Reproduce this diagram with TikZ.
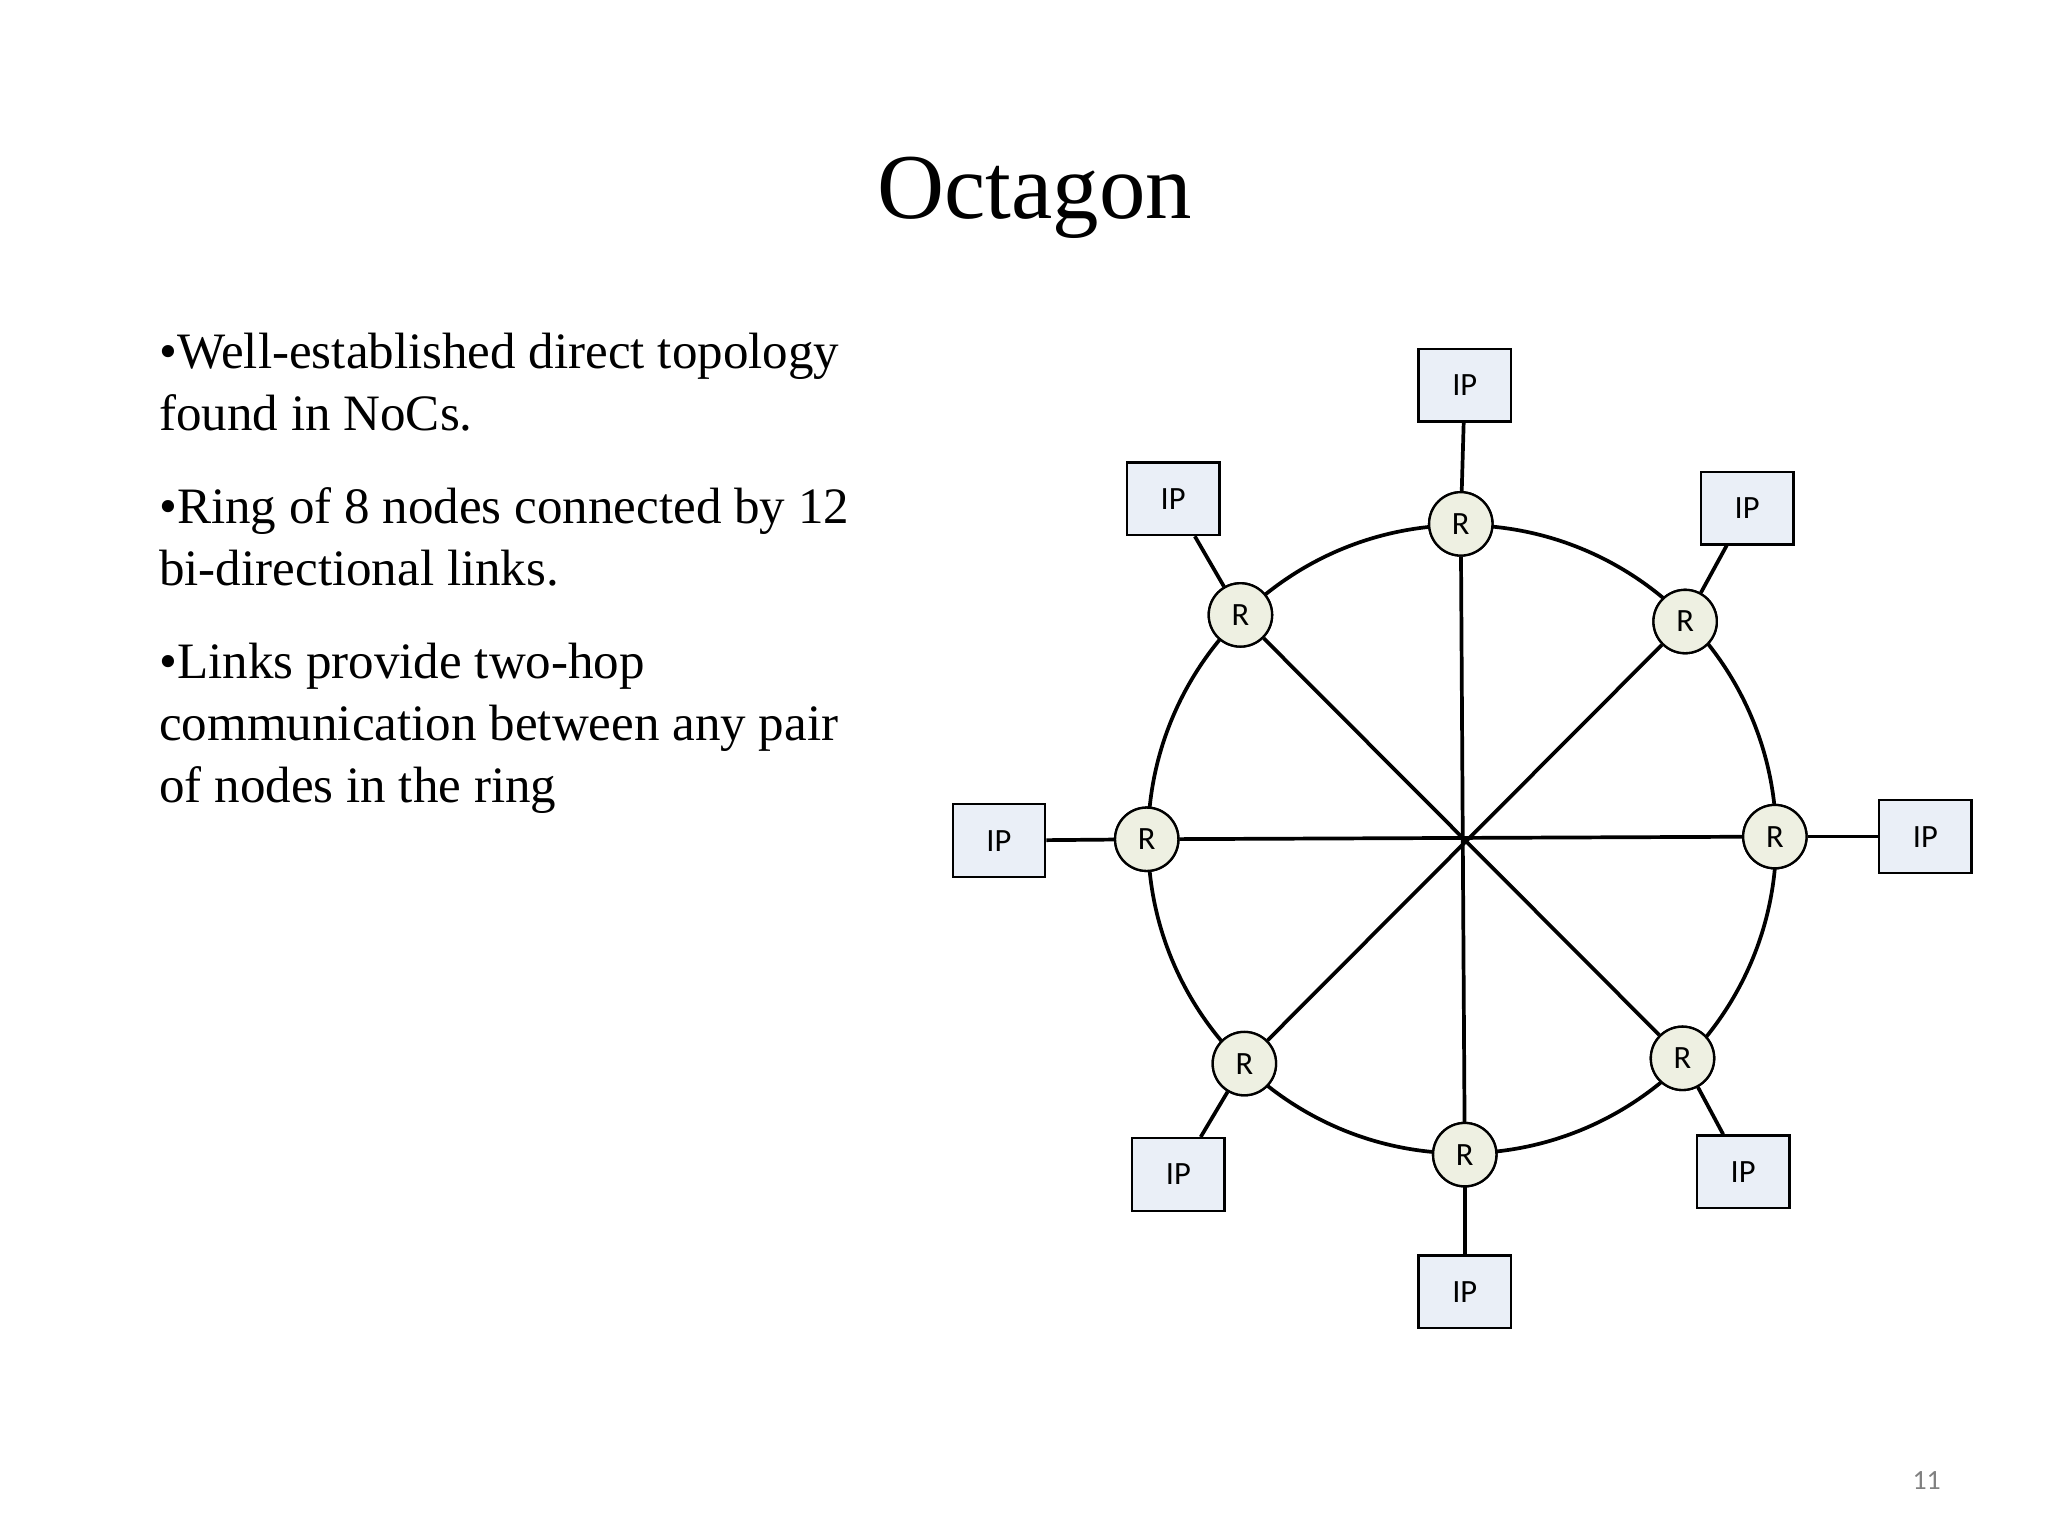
\documentclass[tikz,border=0pt]{standalone}
\usepackage{fontspec}
\setmainfont{Liberation Serif}
\newfontfamily\carlitofont{Carlito}
\definecolor{rfill}{RGB}{238,240,226}
\definecolor{ipfill}{RGB}{234,239,247}
\begin{document}
\begin{tikzpicture}[x=0.01cm,y=-0.01cm,
  rnode/.style={circle,draw,fill=rfill,minimum size=0.48cm,inner sep=0pt,font=\carlitofont\fontsize{7}{8}\selectfont,line width=0.5pt},
  ipnode/.style={rectangle,draw,fill=ipfill,minimum width=0.7cm,minimum height=0.55cm,inner sep=0pt,font=\carlitofont\fontsize{7}{8}\selectfont,line width=0.5pt},
  link/.style={line width=0.8pt},
  bul/.style={anchor=north west,align=left,inner sep=0pt,font=\fontsize{11}{13.3}\selectfont}]
\useasboundingbox (0,0) rectangle (1552,1164);
\node[font=\fontsize{20}{24}\selectfont] (title) at (784,150) {Octagon};
\node[bul] (b1) at (120,252) {•Well-established direct topology\\found in NoCs.};
\node[bul] (b2) at (120,369) {•Ring of 8 nodes connected by 12\\bi-directional links.};
\node[bul] (b3) at (120,487) {•Links provide two-hop\\communication between any pair\\of nodes in the ring};
\coordinate (c) at (1108,636);
\draw[link] (c) circle (238);
\node[rnode] (r1) at (1107,397) {R};
\node[rnode] (r2) at (1277,471) {R};
\node[rnode] (r3) at (1345,634) {R};
\node[rnode] (r4) at (1275,802) {R};
\node[rnode] (r5) at (1110,875) {R};
\node[rnode] (r6) at (943,806) {R};
\node[rnode] (r7) at (869,636) {R};
\node[rnode] (r8) at (940,466) {R};
\node[ipnode] (i1) at (1110,292) {IP};
\node[ipnode] (i2) at (1324,385) {IP};
\node[ipnode] (i3) at (1459,634) {IP};
\node[ipnode] (i4) at (1321,888) {IP};
\node[ipnode] (i5) at (1110,979) {IP};
\node[ipnode] (i6) at (893,890) {IP};
\node[ipnode] (i7) at (757,637) {IP};
\node[ipnode] (i8) at (889,378) {IP};
\foreach \a/\b in {1/5,2/6,3/7,4/8}{\draw[link] (r\a) -- (r\b);}
\foreach \k in {1,...,8}{\draw[link] (r\k) -- (i\k);}
\foreach \k in {1,...,8}{\node[rnode] at (r\k) {R};}
\node[font=\carlitofont\fontsize{6}{7}\selectfont,text=gray] (pg) at (1460,1122) {11};
\end{tikzpicture}
\end{document}
